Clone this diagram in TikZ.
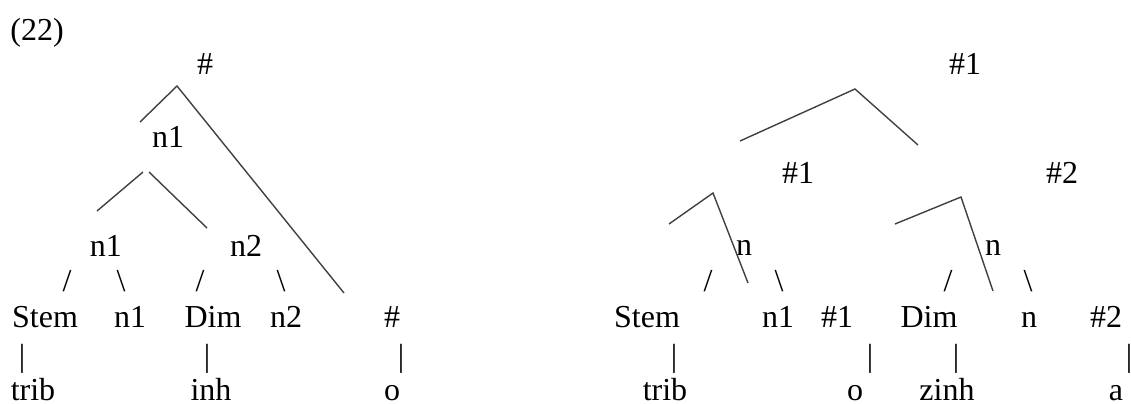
\documentclass[tikz,border=0pt]{standalone}
\usepackage{fontspec}
\setmainfont{Liberation Serif}
\usepackage{tikz}

\tikzset{
  lbl/.style={anchor=base, inner sep=0pt, font=\fontsize{16}{19}\selectfont},
  branch/.style={draw=black!75, line width=0.7pt}
}

\begin{document}
\begin{tikzpicture}[x=0.5pt, y=-0.5pt]
\useasboundingbox (0,0) rectangle (1131,403);
\node[lbl] (exnum) at (37,40) {(22)};

% Left tree: labels
\node[lbl] (lroot) at (205,74) {\#};
\node[lbl] (lnA) at (168,147) {n1};
\node[lbl] (lnB) at (106,256) {n1};
\node[lbl] (lnC) at (246,256) {n2};
\node[lbl] (lsa) at (67,291) {/};
\node[lbl] (lsb) at (121,291) {\textbackslash};
\node[lbl] (lsc) at (200,291) {/};
\node[lbl] (lsd) at (281,291) {\textbackslash};
\node[lbl] (lstem) at (45,327) {Stem};
\node[lbl] (lnone) at (130,327) {n1};
\node[lbl] (ldim) at (213,327) {Dim};
\node[lbl] (lntwo) at (286,327) {n2};
\node[lbl] (lhash) at (392,327) {\#};
\node[lbl] (lba) at (22,366) {|};
\node[lbl] (lbb) at (207,366) {|};
\node[lbl] (lbc) at (401,366) {|};
\node[lbl] (ltrib) at (33,400) {trib};
\node[lbl] (linh) at (211,400) {inh};
\node[lbl] (lo) at (392,400) {o};

% Left tree: branches
\coordinate (lapex) at (177,86);
\coordinate (lapexL) at (140,122);
\coordinate (lapexR) at (344,293);
\coordinate (lsubL) at (143,172);
\coordinate (lsubLe) at (97,211);
\coordinate (lsubR) at (149,172);
\coordinate (lsubRe) at (207,228);
\draw[branch] (lapexL) -- (lapex) -- (lapexR);
\draw[branch] (lsubL) -- (lsubLe);
\draw[branch] (lsubR) -- (lsubRe);

% Right tree: labels
\node[lbl] (rroot) at (965,74) {\#1};
\node[lbl] (rhA) at (798,183) {\#1};
\node[lbl] (rhB) at (1062,183) {\#2};
\node[lbl] (rnA) at (744,255) {n};
\node[lbl] (rnB) at (993,255) {n};
\node[lbl] (rsa) at (708,291) {/};
\node[lbl] (rsb) at (779,291) {\textbackslash};
\node[lbl] (rsc) at (948,291) {/};
\node[lbl] (rsd) at (1028,291) {\textbackslash};
\node[lbl] (rstem) at (647,327) {Stem};
\node[lbl] (rnone) at (778,327) {n1};
\node[lbl] (rhone) at (837,327) {\#1};
\node[lbl] (rdim) at (929,327) {Dim};
\node[lbl] (rn) at (1029,327) {n};
\node[lbl] (rhtwo) at (1106,327) {\#2};
\node[lbl] (rba) at (674,366) {|};
\node[lbl] (rbb) at (870,366) {|};
\node[lbl] (rbc) at (956,366) {|};
\node[lbl] (rbd) at (1129,366) {|};
\node[lbl] (rtrib) at (665,400) {trib};
\node[lbl] (ro) at (855,400) {o};
\node[lbl] (rzinh) at (947,400) {zinh};
\node[lbl] (ra) at (1116,400) {a};

% Right tree: branches
\coordinate (rapex) at (855,89);
\coordinate (rapexL) at (740,141);
\coordinate (rapexR) at (918,145);
\coordinate (rsubA) at (713,193);
\coordinate (rsubAL) at (669,224);
\coordinate (rsubAR) at (748,283);
\coordinate (rsubB) at (961,197);
\coordinate (rsubBL) at (895,224);
\coordinate (rsubBR) at (993,291);
\draw[branch] (rapexL) -- (rapex) -- (rapexR);
\draw[branch] (rsubAL) -- (rsubA) -- (rsubAR);
\draw[branch] (rsubBL) -- (rsubB) -- (rsubBR);
\end{tikzpicture}
\end{document}
